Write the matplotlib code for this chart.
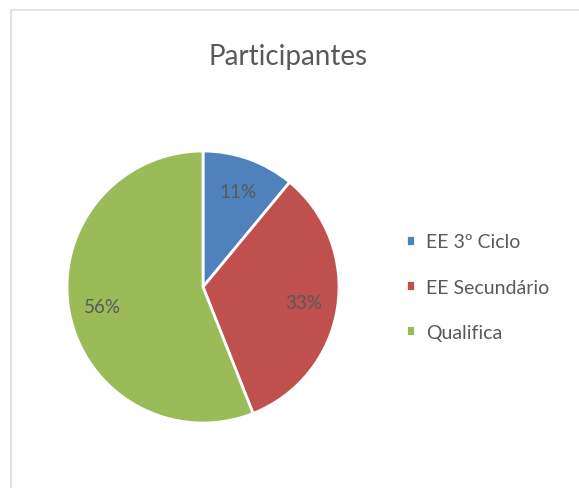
import matplotlib.pyplot as plt
from matplotlib.patches import Rectangle

categories = ['EE 3º Ciclo', 'EE Secundário', 'Qualifica']
shares = [11, 33, 56]
colors = ['#4F81BD', '#C0504D', '#9BBB59']

plt.rcParams['font.family'] = ['Lato', 'DejaVu Sans']
text_color = '#595959'

W, H = 579, 489
fig = plt.figure(figsize=(W / 100, H / 100), dpi=100)

# light chart border (left and top visible, rest cut off)
fig.add_artist(Rectangle((11 / W, -0.05), 1.1, 1 - 11 / H + 0.05,
                         transform=fig.transFigure, fill=False,
                         edgecolor='#DDDDDD', linewidth=1.2))

cx, cy, r = 203, 288, 136
ax = fig.add_axes([(cx - r) / W, (H - cy - r) / H, 2 * r / W, 2 * r / H])
wedges, _, autotexts = ax.pie(shares, colors=colors, startangle=90, counterclock=False,
                              autopct='%d%%', pctdistance=0.75,
                              wedgeprops=dict(edgecolor='white', linewidth=2),
                              textprops=dict(color=text_color, fontsize=13.5))
ax.set_xlim(-1, 1)
ax.set_ylim(-1, 1)
ax.set_aspect('auto')
ax.axis('off')

fig.text(288 / W, 1 - 57 / H, 'Participantes', ha='center', va='center',
         fontsize=20, color=text_color)

leg = fig.legend(wedges, categories, loc='center left',
                 bbox_to_anchor=(396 / W, 1 - 288 / H), frameon=False,
                 fontsize=14, labelcolor=text_color, handlelength=0.5,
                 handleheight=0.5, handletextpad=0.55, labelspacing=1.45,
                 borderpad=0)

fig.savefig('out.png', dpi=100)
